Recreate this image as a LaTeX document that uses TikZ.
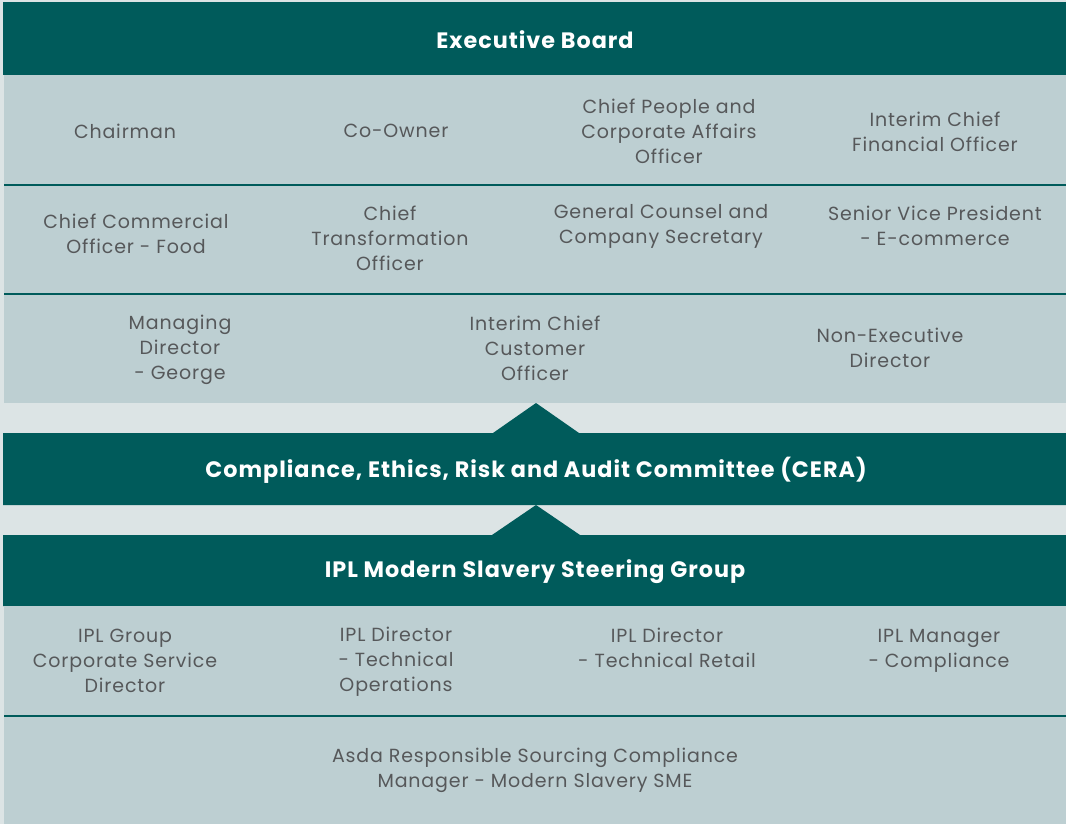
\documentclass[tikz,border=0pt]{standalone}
\usepackage{fontspec}
\setmainfont{Poppins}[LetterSpace=4.5]
\definecolor{teal}{HTML}{005B5B}
\definecolor{panel}{HTML}{BDCFD2}
\definecolor{paper}{HTML}{DCE4E5}
\definecolor{ink}{HTML}{56585A}
\tikzset{
  x=1pt, y=-1pt,
  role/.style={text=ink, align=center, font=\fontsize{19}{25}\selectfont, inner sep=0pt},
  head/.style={text=white, font=\fontsize{22.3}{25}\selectfont\bfseries, inner sep=0pt},
  band/.style={fill=teal, draw=none},
  pane/.style={fill=panel, draw=none},
  rule/.style={draw=teal, line width=1.5pt}
}
\begin{document}
\begin{tikzpicture}
  % canvas
  \fill[paper] (0,0) rectangle (1066,824);
  \useasboundingbox (0,0) rectangle (1066,824);

  % Executive Board block
  \path[band] (3,2) rectangle (1066,75);
  \path[pane] (4,75) rectangle (1066,403);
  \draw[rule] (4,185) -- (1066,185);
  \draw[rule] (4,294) -- (1066,294);

  % CERA block with arrow tip
  \path[band] (3,433) -- (493,433) -- (536,403) -- (579,433) -- (1066,433)
              -- (1066,505) -- (3,505) -- cycle;

  % Steering group block with arrow tip
  \path[band] (3,535) -- (492,535) -- (536,505) -- (580,535) -- (1066,535)
              -- (1066,606) -- (3,606) -- cycle;
  \path[pane] (4,606) rectangle (1066,824);
  \draw[rule] (4,716) -- (1066,716);

  % headings
  \node[head] (eb) at (535,40) {Executive Board};
  \node[head] (cera) at (536,470) {Compliance, Ethics, Risk and Audit Committee (CERA)};
  \node[head] (ipl) at (535,572) {IPL Modern Slavery Steering Group};

  % executive board members
  \node[role] (chair) at (125,131) {Chairman};
  \node[role] (coown) at (396,131) {Co-Owner};
  \node[role] (cpo) at (669,131.5) {Chief People and\\Corporate Affairs\\Officer};
  \node[role] (cfo) at (935,132) {Interim Chief\\Financial Officer};

  \node[role] (cco) at (136,234) {Chief Commercial\\Officer - Food};
  \node[role] (cto) at (390,238.5) {Chief\\Transformation\\Officer};
  \node[role] (gc) at (661,226.5) {General Counsel and\\Company Secretary};
  \node[role] (svp) at (935,226) {Senior Vice President\\- E-commerce};

  \node[role] (mdg) at (180,349.5) {Managing\\Director\\- George};
  \node[role] (ccuo) at (535,348.5) {Interim Chief\\Customer\\Officer};
  \node[role] (ned) at (890,348) {Non-Executive\\Director};

  % steering group members
  \node[role] (grp) at (125,660.5) {IPL Group\\Corporate Service\\Director};
  \node[role] (tops) at (396,662) {IPL Director\\- Technical\\Operations};
  \node[role] (tret) at (667,648) {IPL Director\\- Technical Retail};
  \node[role] (comp) at (939,651) {IPL Manager\\- Compliance};

  \node[role] (sme) at (535,770.5) {Asda Responsible Sourcing Compliance\\Manager - Modern Slavery SME};
\end{tikzpicture}
\end{document}
